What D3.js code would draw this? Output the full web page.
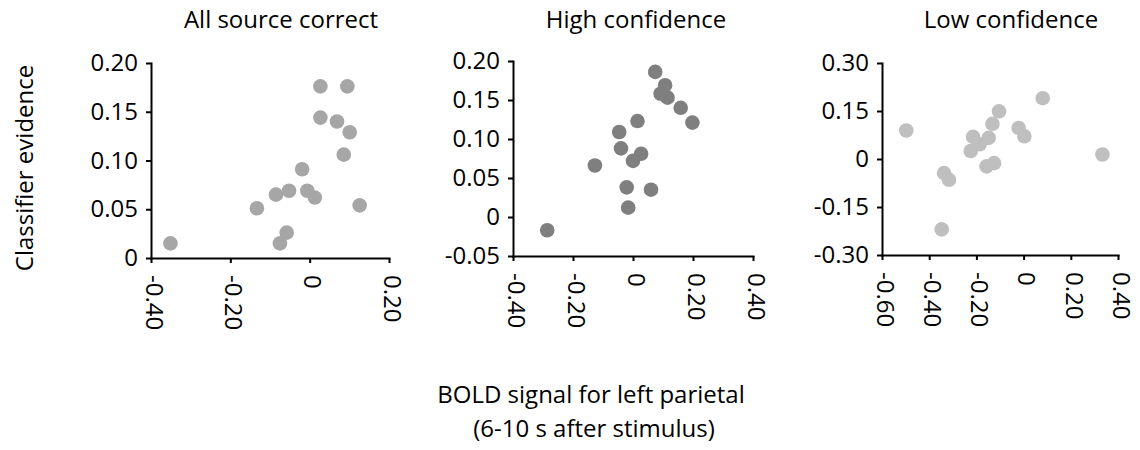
<!DOCTYPE html>
<html>
<head>
<meta charset="utf-8">
<script src="https://cdn.jsdelivr.net/npm/d3@7"></script>
<style>
  body { margin: 0; background: #fff; }
  svg { display: block; font-family: 'Open Sans', sans-serif; }
  .axis path, .axis line { stroke: #000; stroke-width: 2; }
  .axis text { fill: #000; font-size: 24px; font-family: 'Open Sans', sans-serif; }
</style>
</head>
<body>
<svg id="chart" width="1140" height="450"></svg>
<script>
// panel titles
const titles = ['All source correct', 'High confidence', 'Low confidence']

// x = BOLD signal, y = classifier evidence
const allCorrectX = [-0.351, -0.133, -0.085, -0.052, -0.058, -0.075, -0.019, -0.006, 0.013, 0.027, 0.027, 0.069, 0.095, 0.101, 0.086, 0.126]
const allCorrectY = [0.015, 0.051, 0.065, 0.069, 0.026, 0.015, 0.091, 0.069, 0.062, 0.176, 0.144, 0.140, 0.176, 0.129, 0.106, 0.054]

const highConfX = [-0.286, -0.127, -0.046, -0.040, -0.021, -0.016, 0.000, 0.027, 0.015, 0.060, 0.074, 0.107, 0.092, 0.115, 0.159, 0.198]
const highConfY = [-0.017, 0.066, 0.109, 0.088, 0.038, 0.012, 0.072, 0.081, 0.123, 0.035, 0.186, 0.169, 0.158, 0.153, 0.140, 0.121]

const lowConfX = [-0.497, -0.347, -0.337, -0.316, -0.224, -0.214, -0.186, -0.148, -0.157, -0.125, -0.132, -0.104, -0.021, 0.003, 0.081, 0.334]
const lowConfY = [0.089, -0.220, -0.044, -0.065, 0.025, 0.069, 0.046, 0.066, -0.023, -0.013, 0.110, 0.149, 0.097, 0.071, 0.190, 0.014]

// tick values and their labels
const xTicks1 = [-0.4, -0.2, 0, 0.2]
const xLabels1 = ['-0.40', '-0.20', '0', '0.20']
const yTicks1 = [0, 0.05, 0.10, 0.15, 0.20]
const yLabels1 = ['0', '0.05', '0.10', '0.15', '0.20']

const xTicks2 = [-0.4, -0.2, 0, 0.2, 0.4]
const xLabels2 = ['-0.40', '-0.20', '0', '0.20', '0.40']
const yTicks2 = [-0.05, 0, 0.05, 0.10, 0.15, 0.20]
const yLabels2 = ['-0.05', '0', '0.05', '0.10', '0.15', '0.20']

const xTicks3 = [-0.6, -0.4, -0.2, 0, 0.2, 0.4]
const xLabels3 = ['-0.60', '-0.40', '-0.20', '0', '0.20', '0.40']
const yTicks3 = [-0.30, -0.15, 0, 0.15, 0.30]
const yLabels3 = ['-0.30', '-0.15', '0', '0.15', '0.30']

const panels = [
  { title: titles[0], xs: allCorrectX, ys: allCorrectY, xTicks: xTicks1, xLabels: xLabels1, yTicks: yTicks1, yLabels: yLabels1,
    left: 151, right: 389, top: 63, bottom: 258, titleX: 281, color: '#a6a6a6' },
  { title: titles[1], xs: highConfX, ys: highConfY, xTicks: xTicks2, xLabels: xLabels2, yTicks: yTicks2, yLabels: yLabels2,
    left: 513, right: 753, top: 61, bottom: 256, titleX: 636, color: '#7f7f7f' },
  { title: titles[2], xs: lowConfX, ys: lowConfY, xTicks: xTicks3, xLabels: xLabels3, yTicks: yTicks3, yLabels: yLabels3,
    left: 882, right: 1118, top: 63, bottom: 255, titleX: 1011, color: '#bfbfbf' },
]

const svg = d3.select('#chart')

panels.forEach(p => {
  const x = d3.scaleLinear()
    .domain(d3.extent(p.xTicks))
    .range([p.left, p.right])
  const y = d3.scaleLinear()
    .domain(d3.extent(p.yTicks))
    .range([p.bottom, p.top])

  const g = svg.append('g')

  g.append('text')
    .attr('x', p.titleX)
    .attr('y', 28)
    .attr('text-anchor', 'middle')
    .attr('font-size', 24)
    .text(p.title)

  const yAxis = g.append('g')
    .attr('class', 'axis')
    .attr('transform', `translate(${p.left},0)`)
    .call(d3.axisLeft(y)
      .tickValues(p.yTicks)
      .tickFormat((d, i) => p.yLabels[i])
      .tickSize(5)
      .tickSizeOuter(0)
      .tickPadding(8))

  const xAxis = g.append('g')
    .attr('class', 'axis')
    .attr('transform', `translate(0,${p.bottom})`)
    .call(d3.axisBottom(x)
      .tickValues(p.xTicks)
      .tickFormat((d, i) => p.xLabels[i])
      .tickSize(5)
      .tickSizeOuter(0))
  // rotated tick labels, reading downward
  xAxis.selectAll('.tick text')
    .attr('transform', 'rotate(90)')
    .attr('text-anchor', 'start')
    .attr('x', 17)
    .attr('y', 0)
    .attr('dy', '0.24em')

  yAxis.select('.domain').attr('stroke-linecap', 'square')
  xAxis.select('.domain').attr('stroke-linecap', 'square')

  g.append('g')
    .selectAll('circle')
    .data(p.xs.map((v, i) => ({ x: v, y: p.ys[i] })))
    .join('circle')
    .attr('cx', d => x(d.x))
    .attr('cy', d => y(d.y))
    .attr('r', 7.3)
    .attr('fill', p.color)
})

svg.append('text')
  .attr('transform', 'translate(33,168) rotate(-90)')
  .attr('text-anchor', 'middle')
  .attr('font-size', 24)
  .text('Classifier evidence')

const xLabel = svg.append('text')
  .attr('text-anchor', 'middle')
  .attr('font-size', 24)
xLabel.append('tspan').attr('x', 591).attr('y', 403).text('BOLD signal for left parietal')
xLabel.append('tspan').attr('x', 594).attr('y', 437).text('(6-10 s after stimulus)')
</script>
</body>
</html>
